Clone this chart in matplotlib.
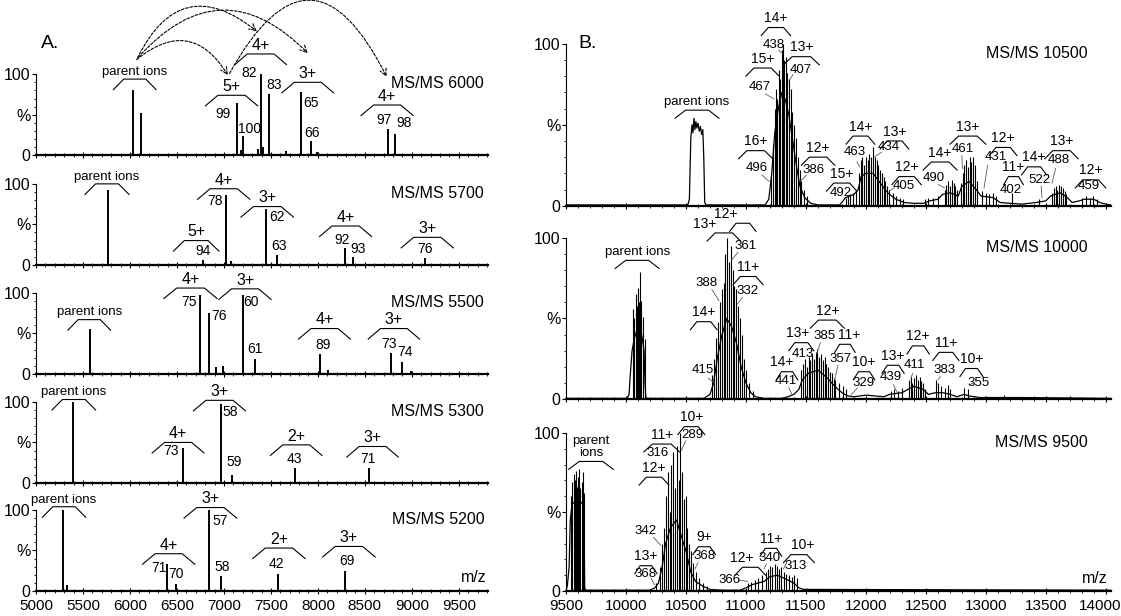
import matplotlib
matplotlib.use('Agg')
import matplotlib.pyplot as plt
from matplotlib import font_manager
from matplotlib.ticker import MultipleLocator
from matplotlib.transforms import ScaledTranslation

# fonte estreita parecida com a do artigo (se existir)
names = {f.name for f in font_manager.fontManager.ttflist}
FONT = 'Liberation Sans Narrow' if 'Liberation Sans Narrow' in names else 'Liberation Sans'
plt.rcParams['font.family'] = [FONT, 'DejaVu Sans']

# ---------------- painel A: espectros de picos (m/z, %) ----------------
a_titles = ['MS/MS 6000', 'MS/MS 5700', 'MS/MS 5500', 'MS/MS 5300', 'MS/MS 5200']

a1_peaks = [(6032, 80), (6115, 52), (7136, 64), (7180, 6), (7204, 24), (7360, 8), (7393, 100),
            (7420, 10), (7476, 76), (7660, 5), (7816, 78), (7930, 17), (7990, 4), (8742, 33), (8825, 26)]
a2_peaks = [(5764, 92), (6777, 6), (7026, 86), (7080, 5), (7449, 69), (7570, 12),
            (8289, 21), (8376, 10), (9139, 8)]
a3_peaks = [(5578, 55), (6750, 98), (6837, 75), (6920, 8), (6990, 10), (7204, 97), (7328, 19),
            (8024, 24), (8107, 5), (8780, 26), (8893, 15), (8990, 4)]
a4_peaks = [(5397, 100), (6569, 43), (6966, 98), (7087, 10), (7752, 18), (8542, 18)]
a5_peaks = [(5284, 100), (5330, 8), (6391, 33), (6486, 9), (6845, 100), (6973, 19), (7571, 21), (8290, 25)]

# colchetes: (x esquerdo, x direito, topo, rótulo)
a1_brackets = [(5824, 6278, 94, 'parent ions'), (6803, 7359, 74, '5+'), (7117, 7665, 125, '4+'),
               (7616, 8168, 90, '3+'), (8459, 9014, 62, '4+')]
a2_brackets = [(5522, 5990, 100, 'parent ions'), (6463, 6947, 30, '5+'), (6720, 7276, 94, '4+'),
               (7181, 7741, 72, '3+'), (8017, 8572, 48, '4+'), (8886, 9442, 34, '3+')]
a3_brackets = [(5340, 5794, 67, 'parent ions'), (6361, 6928, 106, '4+'), (6947, 7502, 105, '3+'),
               (7794, 8346, 56, '4+'), (8535, 9082, 56, '3+')]
a4_brackets = [(5170, 5635, 103, 'parent ions'), (6236, 6788, 50, '4+'), (6675, 7230, 102, '3+'),
               (7495, 8043, 47, '2+'), (8308, 8856, 45, '3+')]
a5_brackets = [(5068, 5529, 104, 'parent ions'), (6134, 6690, 46, '4+'), (6576, 7136, 103, '3+'),
               (7306, 7865, 53, '2+'), (8050, 8610, 55, '3+')]

# números dos fragmentos: (x, y, texto)
a1_numbers = [(6995, 51, '99'), (7268, 33, '100'), (7268, 101, '82'), (7533, 87, '83'),
              (7922, 65, '65'), (7941, 28, '66'), (8704, 44, '97'), (8912, 40, '98')]
a2_numbers = [(6777, 17, '94'), (6901, 79, '78'), (7563, 59, '62'), (7589, 23, '63'),
              (8258, 31, '92'), (8432, 20, '93'), (9139, 20, '76')]
a3_numbers = [(6633, 89, '75'), (6947, 71, '76'), (7287, 89, '60'), (7325, 31, '61'),
              (8054, 36, '89'), (8761, 37, '73'), (8931, 27, '74')]
a4_numbers = [(6436, 40, '73'), (7071, 88, '58'), (7109, 26, '59'), (7752, 30, '43'), (8534, 30, '71')]
a5_numbers = [(6304, 28, '71'), (6493, 21, '70'), (6958, 87, '57'), (6977, 29, '58'),
              (7563, 33, '42'), (8308, 37, '69')]

# setas tracejadas no primeiro espectro: início, fim, curvatura
a1_arrows = [((6070, 118), (7041, 99), -0.57), ((6080, 120), (7351, 153), -0.62),
             ((6090, 121), (7892, 126), -0.53), ((7060, 101), (8731, 97), -0.95)]

# ---------------- painel B: envelope + picos ----------------
b_titles = ['MS/MS 10500', 'MS/MS 10000', 'MS/MS 9500']

b1_env = [(9500, 0.5), (10515, 0.5), (10528, 4), (10540, 42), (10550, 50), (10558, 45), (10566, 54),
          (10574, 47), (10582, 52), (10590, 48), (10600, 51), (10610, 46), (10620, 49), (10630, 44),
          (10640, 47), (10648, 30), (10656, 2), (10666, 0.5),
          (11160, 0.5), (11190, 4), (11215, 20), (11240, 45), (11270, 60), (11300, 70), (11330, 65),
          (11360, 55), (11390, 40), (11420, 25), (11450, 12), (11490, 5), (11540, 1.5), (11600, 0.5),
          (11780, 0.5), (11800, 2), (11830, 5), (11900, 7), (11935, 10), (11960, 18), (12000, 20),
          (12060, 20), (12120, 14), (12180, 8), (12250, 4), (12320, 2), (12400, 1.5), (12480, 1.5),
          (12530, 3), (12600, 4), (12640, 7), (12700, 8), (12770, 6), (12800, 12), (12860, 15),
          (12920, 10), (12960, 6), (13060, 5), (13120, 2), (13200, 1.5), (13300, 1), (13420, 2),
          (13500, 3), (13540, 6), (13620, 8), (13680, 5), (13720, 2), (13780, 3), (13820, 4),
          (13900, 4), (13950, 2), (14000, 1), (14045, 0.5)]
b1_spk = [(11208, 18), (11223, 38), (11238, 60), (11250, 72), (11262, 66), (11274, 84), (11286, 78),
          (11298, 96), (11309, 100), (11321, 90), (11333, 92), (11345, 82), (11357, 78), (11372, 72),
          (11387, 58), (11402, 50), (11417, 42), (11432, 30), (11447, 22), (11462, 15), (11483, 10),
          (11507, 6), (11830, 5), (11850, 6), (11870, 7), (11890, 8), (11915, 10),
          (11940, 20), (11955, 28), (11969, 30), (11984, 25), (11999, 30), (12014, 28), (12029, 32),
          (12044, 30), (12059, 36), (12074, 30), (12089, 28), (12104, 25), (12119, 22), (12134, 20),
          (12148, 18), (12163, 15), (12178, 12), (12193, 10), (12223, 8), (12253, 6), (12283, 5),
          (12313, 4), (12490, 4), (12520, 5), (12560, 5), (12600, 6), (12656, 10), (12671, 13),
          (12686, 15), (12701, 12), (12716, 16), (12731, 14), (12746, 12), (12761, 10), (12791, 14),
          (12806, 20), (12820, 25), (12835, 28), (12850, 24), (12865, 30), (12880, 27), (12895, 30),
          (12910, 25), (12925, 15), (12970, 9), (13000, 8), (13030, 7), (13059, 8), (13089, 6),
          (13215, 8), (13447, 4), (13552, 8), (13567, 11), (13582, 12), (13597, 10), (13612, 13),
          (13627, 12), (13642, 11), (13657, 9), (13671, 7), (13806, 5), (13836, 6), (13866, 5),
          (13896, 6), (13925, 4)]

b2_env = [(9500, 0.5), (10010, 0.5), (10025, 3), (10035, 15), (10050, 30), (10070, 38), (10100, 45),
          (10130, 40), (10150, 30), (10158, 10), (10165, 1), (10180, 0.5),
          (10650, 0.5), (10700, 3), (10730, 10), (10760, 25), (10800, 40), (10840, 50), (10880, 45),
          (10920, 35), (10960, 20), (11000, 10), (11040, 4), (11080, 1.5), (11150, 0.5),
          (11300, 0.5), (11350, 1.5), (11400, 3), (11440, 6), (11470, 12), (11520, 16), (11600, 18),
          (11680, 13), (11740, 8), (11800, 4), (11850, 2), (11900, 1.5), (11950, 2), (12000, 2.5),
          (12150, 1.5), (12200, 3), (12300, 4), (12350, 6), (12400, 8), (12480, 6), (12520, 3),
          (12580, 4), (12640, 4), (12700, 3), (12760, 1.5), (12820, 3), (12860, 2), (12950, 1),
          (13300, 1), (14045, 0.5)]
b2_spk = [(10058, 56), (10068, 50), (10079, 65), (10088, 58), (10097, 69), (10106, 60), (10115, 79),
          (10127, 61), (10139, 51), (10154, 37),
          (10715, 15), (10736, 25), (10751, 38), (10766, 48), (10781, 60), (10796, 68), (10814, 72),
          (10829, 90), (10844, 100), (10859, 85), (10874, 95), (10889, 80), (10903, 70), (10918, 68),
          (10933, 58), (10948, 50), (10963, 40), (10984, 25), (10999, 18), (11029, 10), (11059, 5),
          (11462, 18), (11477, 22), (11492, 25), (11507, 20), (11522, 26), (11536, 24), (11551, 28),
          (11566, 25), (11581, 29), (11596, 31), (11611, 26), (11626, 28), (11641, 24), (11656, 26),
          (11671, 22), (11686, 20), (11701, 17), (11716, 16), (11731, 13), (11746, 12), (11775, 10),
          (11805, 8), (11835, 6),
          (12208, 5), (12238, 6), (12268, 5), (12298, 7), (12358, 12), (12373, 14), (12388, 10),
          (12402, 13), (12417, 15), (12432, 12), (12447, 14), (12462, 11), (12477, 10), (12492, 6),
          (12588, 12), (12605, 10), (12626, 8), (12656, 7), (12686, 9), (12701, 6), (12820, 7),
          (12850, 6), (13000, 2), (13150, 2.5), (13400, 2), (13700, 2)]

b3_env = [(9500, 0.5), (9510, 3), (9525, 15), (9535, 45), (9550, 55), (9600, 58), (9640, 55),
          (9650, 40), (9655, 2), (9665, 0.5),
          (10200, 0.5), (10240, 2), (10270, 5), (10300, 15), (10330, 30), (10370, 40), (10420, 45),
          (10460, 35), (10500, 25), (10540, 12), (10580, 6), (10640, 3), (10700, 1), (10800, 0.5),
          (10950, 0.5), (11000, 2), (11050, 4), (11150, 6), (11200, 9), (11260, 10), (11320, 8),
          (11400, 5), (11440, 2), (11480, 1), (14045, 0.5)]
b3_spk = [(9540, 60), (9551, 69), (9562, 74), (9573, 70), (9581, 76), (9590, 66), (9600, 72),
          (9610, 77), (9620, 65), (9630, 69), (9640, 75), (9648, 62),
          (10252, 5), (10282, 15), (10303, 30), (10318, 40), (10333, 60), (10348, 75), (10363, 50),
          (10378, 80), (10393, 88), (10408, 65), (10423, 92), (10438, 70), (10453, 100), (10467, 75),
          (10482, 58), (10497, 60), (10512, 40), (10527, 30), (10542, 25), (10557, 18), (10581, 12),
          (10611, 8), (10641, 5), (10671, 3),
          (11014, 5), (11044, 6), (11074, 7), (11103, 8), (11133, 10), (11163, 12), (11184, 14),
          (11202, 16), (11220, 15), (11238, 17), (11256, 16), (11274, 14), (11292, 15), (11313, 12),
          (11333, 11), (11357, 10), (11381, 9), (11402, 10), (11423, 8)]

# colchetes: (x esq, x dir, topo, rótulo, x do rótulo ou None)
b1_brackets = [(10408, 10775, 59, 'parent ions', None), (11127, 11372, 110, '14+', None),
               (11313, 11611, 92, '13+', None), (10999, 11277, 85, '15+', None),
               (10939, 11223, 34, '16+', None), (11462, 11740, 30, '12+', None),
               (11671, 11925, 14, '15+', None), (11835, 12074, 43, '14+', None),
               (12119, 12358, 40, '13+', None), (12217, 12462, 18, '12+', None),
               (12477, 12761, 27, '14+', None), (12701, 13000, 43, '13+', None),
               (13030, 13259, 36, '12+', None), (13149, 13313, 18, '11+', None),
               (13298, 13507, 24, '14+', None), (13492, 13770, 34, '13+', None),
               (13746, 14000, 16, '12+', None)]
b2_brackets = [(9909, 10276, 86, 'parent ions', None), (10676, 10954, 103, '13+', 10656),
               (10864, 11083, 109, '12+', 10835), (10894, 11142, 76, '11+', None),
               (10536, 10760, 48, '14+', None), (11536, 11820, 49, '12+', None),
               (11357, 11566, 35, '13+', 11430), (11740, 11910, 34, '11+', 11860),
               (11253, 11432, 17, '14+', 11295), (11895, 12074, 17, '10+', None),
               (12134, 12319, 21, '13+', None), (12343, 12528, 33, '12+', None),
               (12558, 12776, 29, '11+', None), (12784, 12976, 19, '10+', None)]
b3_brackets = [(9521, 9894, 82, 'parent\nions', None), (10432, 10656, 104, '10+', None),
               (10148, 10447, 93, '11+', None), (10109, 10357, 72, '12+', None),
               (10073, 10258, 16, '13+', None), (10557, 10745, 28, '9+', None),
               (10909, 11163, 15, '12+', 10962), (11118, 11298, 27, '11+', None),
               (11313, 11570, 23, '10+', 11477)]

b1_numbers = [(11232, 99, '438'), (11453, 84, '407'), (11118, 73, '467'), (11089, 23, '496'),
              (11566, 22, '386'), (11790, 8, '492'), (11910, 33, '463'), (12193, 36, '434'),
              (12313, 12, '405'), (12567, 17, '490'), (12805, 35, '461'), (13080, 30, '431'),
              (13209, 10, '402'), (13447, 16, '522'), (13612, 28, '488'), (13860, 12, '459')]
b2_numbers = [(11000, 95, '361'), (11014, 67, '332'), (10671, 72, '388'), (10641, 18, '415'),
              (11656, 39, '385'), (11470, 28, '413'), (11790, 25, '357'), (11333, 11, '441'),
              (11978, 10, '329'), (12208, 14, '439'), (12402, 21, '411'), (12656, 18, '383'),
              (12940, 10, '355')]
b3_numbers = [(10557, 99, '289'), (10261, 87.5, '316'), (10163, 38, '342'), (10163, 11, '368'),
              (10656, 22, '368'), (10864, 7, '366'), (11193, 21, '340'), (11417, 16, '313')]

# linhas finas que ligam números aos picos
b1_pointers = [(11274, 96, 11304, 94), (11393, 81, 11357, 77), (11163, 69, 11232, 66),
               (11133, 19, 11193, 15), (11506, 19, 11453, 15), (11925, 27, 11949, 24),
               (12128, 33, 12068, 30), (12238, 11, 12193, 9), (12605, 13, 12656, 11),
               (12800, 31, 12805, 23), (13015, 25, 12985, 11), (13462, 12, 13468, 5),
               (13582, 23, 13552, 14)]
b2_pointers = [(10933, 91, 10879, 86), (10969, 63, 10930, 59), (10715, 68, 10775, 61),
               (10686, 13, 10736, 10), (11620, 35, 11590, 28), (11767, 21, 11740, 12),
               (11357, 7, 11387, 2.5), (11930, 7, 11880, 3), (12230, 9, 12260, 4),
               (12390, 16, 12375, 13), (12620, 14, 12600, 12), (12895, 10, 12865, 9)]
b3_pointers = [(10497, 95, 10461, 89), (10229, 34, 10288, 29), (10208, 8, 10238, 4),
               (10600, 18, 10575, 14), (10939, 7, 11014, 6), (11170, 17, 11150, 14),
               (11340, 18, 11313, 14)]

A_XLIM = (5000, 9810)
B_XLIM = (9500, 14045)

TICK_FS = 11
CHARGE_FS_A = 11.5
CHARGE_FS_B = 10
NUM_FS_A = 10
NUM_FS_B = 9.5
PARENT_FS = 9.5
TITLE_FS = 11.5


def setup_axis(ax, xlim, show_labels):
    ax.set_xlim(*xlim)
    ax.set_ylim(0, 100)
    ax.patch.set_alpha(0)
    for s in ['top', 'right']:
        ax.spines[s].set_visible(False)
    ax.spines['left'].set_linewidth(0.8)
    ax.spines['bottom'].set_linewidth(1.6)
    ax.set_yticks([0, 50, 100])
    ax.set_yticklabels(['0', '%', '100'])
    ax.yaxis.set_minor_locator(MultipleLocator(10))
    ax.xaxis.set_major_locator(MultipleLocator(500))
    ax.xaxis.set_minor_locator(MultipleLocator(100))
    ax.tick_params(axis='y', which='major', length=3, width=0.8, pad=1, labelsize=TICK_FS + 0.5)
    ax.tick_params(axis='y', which='minor', length=1.8, width=0.6)
    ax.tick_params(axis='x', which='major', direction='inout', length=5, width=0.8,
                   labelsize=TICK_FS, pad=3, labelbottom=show_labels)
    ax.tick_params(axis='x', which='minor', direction='inout', length=3, width=0.6)


def draw_bracket(ax, x0, x1, y, label, drop, size, label_x=None):
    inset = 0.24 * (x1 - x0)
    ax.plot([x0, x0 + inset, x1 - inset, x1], [y - drop, y, y, y - drop],
            color='k', lw=0.8, clip_on=False)
    lx = (x0 + x1) / 2 if label_x is None else label_x
    ax.text(lx, y + 1.5, label, ha='center', va='bottom', fontsize=size,
            linespacing=1.0, clip_on=False)


fig = plt.figure(figsize=(11.21, 6.16), dpi=100)
fig.patch.set_facecolor('white')

a_peaks = [a1_peaks, a2_peaks, a3_peaks, a4_peaks, a5_peaks]
a_brackets = [a1_brackets, a2_brackets, a3_brackets, a4_brackets, a5_brackets]
a_numbers = [a1_numbers, a2_numbers, a3_numbers, a4_numbers, a5_numbers]
a_bottoms = [0.748, 0.570, 0.393, 0.216, 0.0406]

a_axes = []
for i in range(5):
    ax = fig.add_axes([0.0321, a_bottoms[i], 0.4032, 0.1315])
    setup_axis(ax, A_XLIM, i == 4)
    mz = [p[0] for p in a_peaks[i]]
    h = [p[1] for p in a_peaks[i]]
    ax.vlines(mz, 0, h, color='k', lw=1.4)
    for x0, x1, y, lab in a_brackets[i]:
        size = PARENT_FS if lab == 'parent ions' else CHARGE_FS_A
        draw_bracket(ax, x0, x1, y, lab, 13, size)
    for x, y, t in a_numbers[i]:
        ax.text(x, y, t, ha='center', va='center', fontsize=NUM_FS_A, clip_on=False)
    ax.text(9770, 88, a_titles[i], ha='right', va='center', fontsize=TITLE_FS)
    a_axes.append(ax)

a_axes[4].text(9790, 17, 'm/z', ha='right', va='center', fontsize=TITLE_FS)

# setas tracejadas do primeiro espectro
for start, end, rad in a1_arrows:
    a_axes[0].annotate('', xy=end, xytext=start, xycoords='data', annotation_clip=False,
                       arrowprops=dict(arrowstyle='->', lw=0.8, linestyle=(0, (2.5, 1.5)),
                                       connectionstyle=f'arc3,rad={rad}', shrinkA=0, shrinkB=0,
                                       mutation_scale=12, color='k'))

fig.text(0.0446, 1 - 43 / 616, 'A.', ha='center', va='center', fontsize=14)

b_env = [b1_env, b2_env, b3_env]
b_spk = [b1_spk, b2_spk, b3_spk]
b_brackets = [b1_brackets, b2_brackets, b3_brackets]
b_numbers = [b1_numbers, b2_numbers, b3_numbers]
b_pointers = [b1_pointers, b2_pointers, b3_pointers]
b_boxes = [(0.666, 0.263), (0.352, 0.262), (0.0406, 0.2565)]

b_axes = []
for i in range(3):
    ax = fig.add_axes([0.505, b_boxes[i][0], 0.4862, b_boxes[i][1]])
    setup_axis(ax, B_XLIM, i == 2)
    ax.plot([p[0] for p in b_env[i]], [p[1] for p in b_env[i]], color='k', lw=0.9)
    ax.vlines([p[0] for p in b_spk[i]], 0, [p[1] for p in b_spk[i]], color='k', lw=0.8)
    for x0, x1, y, lab, lx in b_brackets[i]:
        size = PARENT_FS if lab.startswith('parent') else CHARGE_FS_B
        draw_bracket(ax, x0, x1, y, lab, 5, size, lx)
    for x, y, t in b_numbers[i]:
        ax.text(x, y, t, ha='center', va='center', fontsize=NUM_FS_B, clip_on=False)
    for x0, y0, x1, y1 in b_pointers[i]:
        ax.plot([x0, x1], [y0, y1], color='0.35', lw=0.6, clip_on=False)
    ax.text(13851, 94, b_titles[i], ha='right', va='center', fontsize=TITLE_FS)
    b_axes.append(ax)

b_axes[2].text(14015, 8, 'm/z', ha='right', va='center', fontsize=TITLE_FS)
fig.text(588 / 1121, 1 - 43 / 616, 'B.', ha='center', va='center', fontsize=14)

# o rótulo 14000 fica colado à borda direita: puxa alguns pixels para a esquerda
fig.canvas.draw()
for lbl in b_axes[2].get_xticklabels():
    if lbl.get_text() == '14000':
        lbl.set_transform(lbl.get_transform() + ScaledTranslation(-6 / 100, 0, fig.dpi_scale_trans))

fig.savefig('out.png', dpi=100, facecolor='white')
